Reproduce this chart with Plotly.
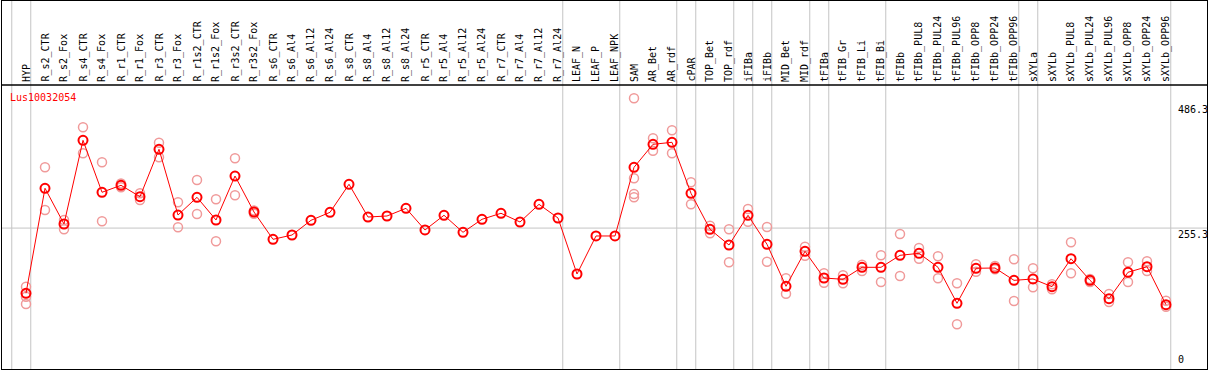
import plotly.graph_objects as go

title = "Lus10032054"

categories = [
    "HYP", "R_s2_CTR", "R_s2_Fox", "R_s4_CTR", "R_s4_Fox", "R_r1_CTR", "R_r1_Fox",
    "R_r3_CTR", "R_r3_Fox", "R_r1s2_CTR", "R_r1s2_Fox", "R_r3s2_CTR", "R_r3s2_Fox",
    "R_s6_CTR", "R_s6_Al4", "R_s6_Al12", "R_s6_Al24", "R_s8_CTR", "R_s8_Al4",
    "R_s8_Al12", "R_s8_Al24", "R_r5_CTR", "R_r5_Al4", "R_r5_Al12", "R_r5_Al24",
    "R_r7_CTR", "R_r7_Al4", "R_r7_Al12", "R_r7_Al24", "LEAF_N", "LEAF_P", "LEAF_NPK",
    "SAM", "AR_Bet", "AR_rdf", "cPAR", "TOP_Bet", "TOP_rdf", "iFIBa", "iFIBb",
    "MID_Bet", "MID_rdf", "tFIBa", "tFIB_Gr", "tFIB_Li", "tFIB_Bi", "tFIBb",
    "tFIBb_PUL8", "tFIBb_PUL24", "tFIBb_PUL96", "tFIBb_OPP8", "tFIBb_OPP24",
    "tFIBb_OPP96", "sXYLa", "sXYLb", "sXYLb_PUL8", "sXYLb_PUL24", "sXYLb_PUL96",
    "sXYLb_OPP8", "sXYLb_OPP24", "sXYLb_OPP96",
]

# group sizes (separated by vertical gray lines)
group_sizes = [1, 28, 3, 3, 1, 2, 1, 1, 2, 1, 3, 7, 1, 7]

means = [
    134.6, 329.0, 262.9, 417.8, 321.6, 334.5, 313.4, 401.2, 279.5, 312.3, 270.3,
    351.7, 285.1, 234.5, 242.5, 269.7, 284.5, 336.4, 275.8, 277.7, 291.9, 251.8,
    279.0, 247.5, 271.6, 282.7, 266.6, 299.3, 274.0, 170.3, 240.7, 240.7, 367.8,
    410.4, 414.1, 319.7, 253.1, 224.0, 279.0, 225.3, 147.5, 212.3, 162.9, 160.5,
    182.7, 182.7, 204.9, 208.6, 182.7, 116.1, 180.9, 181.4, 158.6, 161.1, 146.8,
    198.6, 158.6, 124.6, 173.5, 183.8, 113.5,
]

N = None
rep_a = [
    146.8, 367.8, 270.3, 441.9, 377.1, 338.0, 319.7, 413.4, 303.0, 344.3, 308.6,
    384.5, 288.0, N, N, N, N, N, N, N, N, N, N, N, N, N, N, N, N, N, N, N,
    495.6, 421.5, 436.3, 340.1, 259.7, 253.1, 290.6, 257.3, 162.4, 220.8, 171.6,
    167.9, 187.5, 204.9, 244.4, 218.4, 203.1, 153.1, 188.3, 185.1, 197.5, 180.9,
    151.2, 229.0, 161.1, 133.3, 192.0, 193.8, 120.9,
]
rep_b = [
    128.3, 288.8, 253.1, 393.8, 267.9, 331.0, 307.3, 386.3, 256.8, 281.4, 230.8,
    316.0, 282.0, N, N, N, N, N, N, N, N, N, N, N, N, N, N, N, N, N, N, N,
    347.5, 398.6, 393.8, 299.3, 245.7, 192.0, 267.1, 193.1, 133.8, 204.2, 154.2,
    153.1, 175.9, 155.5, 166.6, 198.6, 162.4, 77.2, 174.6, 179.0, 120.3, 145.7,
    142.0, 171.6, 155.5, 118.5, 155.5, 175.9, 109.8,
]
rep_c = [114.8] + [N] * 31 + [318.4] + [N] * 28
rep_d = [N] * 32 + [312.3] + [N] * 28

y_ticks = [0, 255.3, 486.3]
grid_value = 255.3

# ---- layout geometry ----
W, H = 1209, 370
x_range = [-1.2632, 62.158]
y_range = [-5.55, 675.7]
header_value = 520.2      # black line separating labels from the plot
label_value = 523.9       # baseline of the rotated category labels
title_value = 496.7

mono = "DejaVu Sans Mono"
mean_color = "#ff0000"
rep_color = "#f09a9a"
grid_color = "#c4c4c4"

idx = list(range(len(categories)))

rx, ry = [], []
for reps in (rep_a, rep_b, rep_c, rep_d):
    for i, v in enumerate(reps):
        if v is not None:
            rx.append(i)
            ry.append(v)

fig = go.Figure()
fig.add_trace(go.Scatter(
    x=rx, y=ry, mode="markers",
    marker=dict(symbol="circle-open", size=9, color=rep_color,
                line=dict(width=1.5, color=rep_color)),
    hoverinfo="skip",
))
fig.add_trace(go.Scatter(
    x=idx, y=means, mode="lines+markers",
    line=dict(color=mean_color, width=1),
    marker=dict(symbol="circle-open", size=9, color=mean_color,
                line=dict(width=2, color=mean_color)),
))

shapes = []
# vertical group separators
ends = [-1]
acc = 0
for g in group_sizes:
    acc += g
    ends.append(acc - 1)
for e in ends:
    shapes.append(dict(type="line", xref="x", yref="paper", x0=e + 0.25, x1=e + 0.25,
                       y0=0, y1=1, line=dict(color=grid_color, width=1), layer="below"))
# horizontal reference line
shapes.append(dict(type="line", xref="paper", yref="y", x0=0, x1=1, y0=grid_value,
                   y1=grid_value, line=dict(color=grid_color, width=1), layer="below"))
# header separator line
shapes.append(dict(type="line", xref="paper", yref="y", x0=0, x1=1, y0=header_value,
                   y1=header_value, line=dict(color="black", width=1.5)))

annotations = []
for i, c in enumerate(categories):
    annotations.append(dict(
        x=i, y=label_value, xref="x", yref="y", text=c, showarrow=False,
        textangle=-90, xanchor="center", yanchor="bottom", borderpad=0,
        font=dict(family=mono, size=10, color="black"),
    ))
annotations.append(dict(
    x=0.006, y=title_value, xref="paper", yref="y", text=title, showarrow=False,
    xanchor="left", yanchor="middle", borderpad=0,
    font=dict(family=mono, size=10, color=mean_color),
))
for t in y_ticks:
    annotations.append(dict(
        x=0.9751, y=t, xref="paper", yref="y", text=("%g" % t), showarrow=False,
        xanchor="left", yanchor=("bottom" if t == 0 else "top"), borderpad=0,
        font=dict(family=mono, size=10, color="black"),
    ))

fig.update_layout(
    width=W, height=H,
    margin=dict(l=2, r=2, t=1, b=1),
    paper_bgcolor="white", plot_bgcolor="white",
    showlegend=False,
    shapes=shapes, annotations=annotations,
    xaxis=dict(range=x_range, showgrid=False, zeroline=False, showticklabels=False,
               ticks="", showline=True, mirror=True, linecolor="black", linewidth=1),
    yaxis=dict(range=y_range, showgrid=False, zeroline=False, showticklabels=False,
               ticks="", showline=True, mirror=True, linecolor="black", linewidth=1),
)

fig.write_html(
    "out.html",
    config={"displayModeBar": False},
    post_script="document.body.style.margin='0';document.body.style.overflow='hidden';",
)
